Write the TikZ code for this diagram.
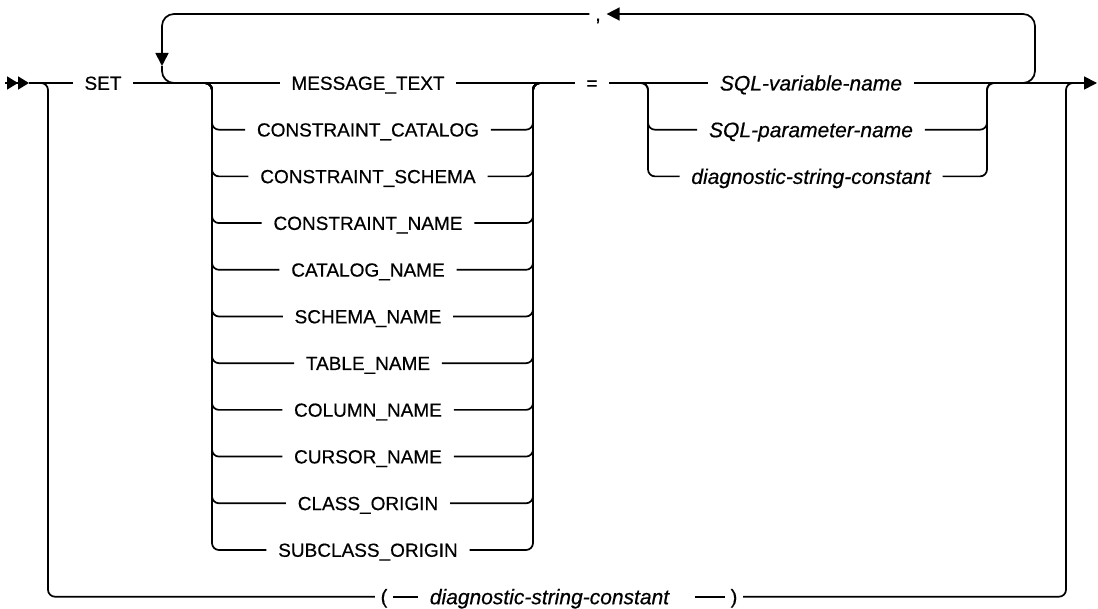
\documentclass[tikz,border=0pt]{standalone}
\usepackage{fontspec}
\setmainfont{Liberation Sans}[FakeBold=0.5]
\usetikzlibrary{arrows.meta,positioning}

\begin{document}
\begin{tikzpicture}[
  x=1pt, y=-1pt,
  line width=1.7pt,
  >={Triangle[length=13pt,width=13pt]},
  % keyword and variable boxes
  kw/.style={inner xsep=11pt, inner ysep=0pt, text height=13.6pt, text depth=0pt,
             font=\fontsize{19}{22}\selectfont},
  var/.style={inner xsep=11pt, inner ysep=0pt, text height=15pt, text depth=0pt,
              font=\fontsize{21}{24}\selectfont\itshape},
  punct/.style={inner xsep=5pt, inner ysep=0pt, text height=13.6pt, text depth=0pt,
                font=\fontsize{20}{22}\selectfont},
  % rails
  rail/.style={draw=black, rounded corners=7pt},
  backrail/.style={draw=black, rounded corners=12pt},
]
\useasboundingbox (0,0) rectangle (1098,609);

% ── Rail x positions ──────────────────────────────────────────────────────
\def\xA{48}     % bypass, left
\def\xB{212}    % keyword choice, left
\def\xC{533}    % keyword choice, right
\def\xD{648}    % value choice, left
\def\xE{987}    % value choice, right
\def\xF{1066}   % bypass, right
\def\yM{83}     % main rail

% ── Entry / exit ──────────────────────────────────────────────────────────
\coordinate (pre)  at (5,\yM);
\coordinate (strt) at (29,\yM);
\coordinate (stop) at (1097,\yM);
\draw[-{Triangle[length=11pt,width=13pt]Triangle[length=11pt,width=13pt]}] (pre) -- (strt);

\node[kw] (set) at (103,\yM) {SET};
\draw (strt) -- (set);

% ── Keyword choice ────────────────────────────────────────────────────────
\coordinate (g1L) at (\xB,\yM);
\coordinate (g1R) at (\xC,\yM);
\coordinate (g1J) at (545,\yM);

\node[kw] (msg)   at (368,83)    {MESSAGE\_TEXT};
\node[kw] (ccat)  at (368,129.7) {CONSTRAINT\_CATALOG};
\node[kw] (csch)  at (368,176.4) {CONSTRAINT\_SCHEMA};
\node[kw] (cnam)  at (368,223.1) {CONSTRAINT\_NAME};
\node[kw] (catn)  at (368,269.8) {CATALOG\_NAME};
\node[kw] (schn)  at (368,316.5) {SCHEMA\_NAME};
\node[kw] (tabn)  at (368,363.2) {TABLE\_NAME};
\node[kw] (coln)  at (368,409.9) {COLUMN\_NAME};
\node[kw] (curn)  at (368,456.6) {CURSOR\_NAME};
\node[kw] (clso)  at (368,503.3) {CLASS\_ORIGIN};
\node[kw] (sclso) at (368,550)   {SUBCLASS\_ORIGIN};

\draw (set) -- (msg);
\draw[rail] (set) -- (g1L) |- (ccat);
\draw[rail] (set) -- (g1L) |- (csch);
\draw[rail] (set) -- (g1L) |- (cnam);
\draw[rail] (set) -- (g1L) |- (catn);
\draw[rail] (set) -- (g1L) |- (schn);
\draw[rail] (set) -- (g1L) |- (tabn);
\draw[rail] (set) -- (g1L) |- (coln);
\draw[rail] (set) -- (g1L) |- (curn);
\draw[rail] (set) -- (g1L) |- (clso);
\draw[rail] (set) -- (g1L) |- (sclso);

\draw[rail] (ccat)  -| (g1R) -- (g1J);
\draw[rail] (csch)  -| (g1R) -- (g1J);
\draw[rail] (cnam)  -| (g1R) -- (g1J);
\draw[rail] (catn)  -| (g1R) -- (g1J);
\draw[rail] (schn)  -| (g1R) -- (g1J);
\draw[rail] (tabn)  -| (g1R) -- (g1J);
\draw[rail] (coln)  -| (g1R) -- (g1J);
\draw[rail] (curn)  -| (g1R) -- (g1J);
\draw[rail] (clso)  -| (g1R) -- (g1J);
\draw[rail] (sclso) -| (g1R) -- (g1J);

\node[kw] (eq) at (592,\yM) {=};
\draw (msg) -- (eq);

% ── Value choice ──────────────────────────────────────────────────────────
\coordinate (g2L) at (\xD,\yM);
\coordinate (g2R) at (\xE,\yM);
\coordinate (g2J) at (1000,\yM);

\node[var] (sqlvar) at (811,83)    {SQL-variable-name};
\node[var] (sqlpar) at (811,129.7) {SQL-parameter-name};
\node[var] (dsc)    at (811,176.4) {diagnostic-string-constant};

\draw (eq) -- (sqlvar);
\draw[rail] (eq) -- (g2L) |- (sqlpar);
\draw[rail] (eq) -- (g2L) |- (dsc);
\draw[rail] (sqlpar) -| (g2R) -- (g2J);
\draw[rail] (dsc)    -| (g2R) -- (g2J);
\draw[->] (sqlvar) -- (stop);

% ── Repeat loop ───────────────────────────────────────────────────────────
\node[punct] (comma) at (598,14) {,};
\coordinate (lpR) at (1035,14);
\coordinate (lpL) at (162,66);
\coordinate (lpJ) at (185,\yM);
\draw[backrail,->] (g2R) -| (lpR) -- (comma);
\draw[backrail,->] (comma) -| (lpL);
\draw[backrail] (lpL) |- (lpJ);

% ── Bypass: ( diagnostic-string-constant ) ────────────────────────────────
\coordinate (bdn) at (\xA,\yM);
\coordinate (bup) at (\xF,\yM);
\coordinate (bJ)  at (1080,\yM);

\node[punct] (lpar)  at (384,596.7) {(};
\node[var]   (bdiag) at (549.5,596.7) {diagnostic-string-constant};
\node[punct] (rpar)  at (734,596.7) {)};

\draw[rail] (strt) -- (bdn) |- (lpar);
\draw (lpar) -- (bdiag);
\draw[shorten <=14pt] (bdiag) -- (rpar);
\draw[rail] (rpar) -| (bup) -- (bJ);

\end{tikzpicture}
\end{document}
